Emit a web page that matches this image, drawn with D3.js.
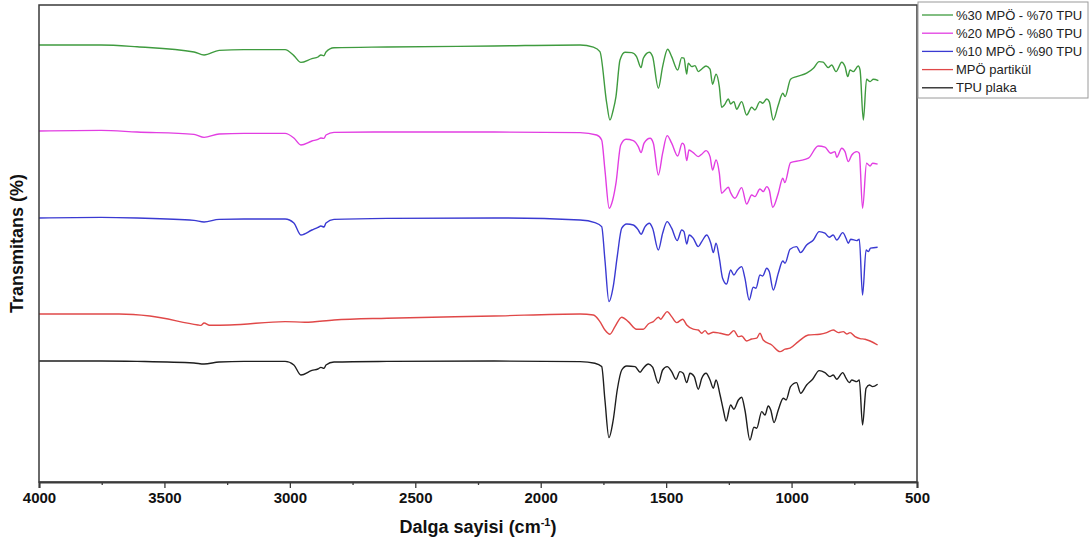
<!DOCTYPE html>
<html>
<head>
<meta charset="utf-8">
<script src="https://cdn.jsdelivr.net/npm/d3@7/dist/d3.min.js"></script>
<style>
  html, body { margin: 0; padding: 0; background: #fff; }
  svg { display: block; }
</style>
</head>
<body>
<svg id="chart" width="1090" height="544"></svg>
<script>
// FTIR spectra, stacked with vertical offsets: [wavenumber (cm-1), transmittance (a.u.)]
const green30 = [[4000,218.5],[3753,218.5],[3609,217.6],[3382,215],[3342,213.5],[3282,215.8],[3183,216.2],[3019,216.2],[2984,213.2],[2956,209.8],[2912,211.7],[2888,212.5],[2876,213.5],[2864,213.1],[2856,215],[2824,217.1],[2613,217.5],[2186,218],[1843,218.5],[1790,217.4],[1764,215.2],[1737,189.5],[1724,181],[1711,186],[1700,192.7],[1684,211],[1664,214.9],[1637,214.7],[1618,212.7],[1600,207.2],[1591,211.9],[1567,214.9],[1554,212.7],[1531,196.9],[1514,207.7],[1494,216.4],[1478,212.7],[1454,206],[1438,212.2],[1429,211.9],[1418,204],[1412,209.4],[1398,207.7],[1385,208.2],[1372,205.2],[1358,206.5],[1341,208],[1325,206.4],[1315,198.9],[1301,203.9],[1288,197.7],[1279,187.4],[1268,188.5],[1252,191.5],[1243,189],[1230,190.2],[1219,186.4],[1199,190.2],[1179,183.5],[1159,187.4],[1146,186],[1126,190.2],[1115,189.4],[1099,191.5],[1089,190.2],[1073,181],[1053,188.5],[1035,194.4],[1026,192.7],[1004,201.4],[980,202.7],[940,204.4],[913,206.9],[890,210.2],[874,209.9],[854,207.2],[840,208.5],[823,205.2],[800,209.9],[787,207.7],[776,202.7],[767,206],[754,205.2],[734,208],[727,206],[714,181],[701,201.4],[687,200.2],[674,201.4],[654,200.7]];

const magenta20 = [[4000,175.5],[3753,175.8],[3609,175],[3382,173.8],[3342,172.3],[3282,174],[3183,174.3],[3019,174.3],[2984,172],[2956,168.5],[2912,170.5],[2888,171.3],[2876,172],[2864,171.8],[2856,173.5],[2824,174.8],[2613,175],[2186,175],[1843,174.7],[1777,173.5],[1757,171],[1744,156],[1727,136.9],[1713,141],[1700,149.4],[1681,168.5],[1660,171.4],[1631,170.7],[1611,167.7],[1600,164.7],[1588,169.4],[1564,171.9],[1551,169.4],[1531,153.5],[1514,164.4],[1496,173.2],[1478,169.4],[1454,163],[1436,169.4],[1428,168.5],[1418,160.7],[1409,166],[1392,164.7],[1372,162.7],[1358,163.9],[1341,165.7],[1325,162.7],[1315,156],[1301,161],[1288,154.4],[1279,144.4],[1265,146],[1252,147.4],[1243,144.7],[1226,141.9],[1199,147.2],[1179,139],[1159,143.5],[1146,142.7],[1126,146.5],[1113,145.2],[1099,147.7],[1089,146],[1075,137.4],[1053,144.4],[1035,151.9],[1027,149.7],[1004,159.7],[967,160.7],[933,161.9],[894,168],[867,167.4],[844,164.4],[827,165.2],[820,162.4],[800,166.9],[787,165.2],[774,160.2],[760,163.5],[740,165.2],[730,164.4],[717,136.9],[701,159.4],[687,158],[677,159.4],[657,158.9]];

const blue10 = [[4000,132],[3753,132.3],[3609,132],[3382,130.8],[3342,130],[3282,131.3],[3183,131.5],[3019,131.5],[2984,129.5],[2956,123.5],[2912,126],[2888,127.3],[2876,128],[2864,127.5],[2856,129.5],[2824,131.3],[2613,131.8],[2186,132],[1843,131],[1784,129.7],[1757,127.7],[1744,111],[1728,90.2],[1711,97.7],[1695,112.7],[1677,126.9],[1657,129],[1631,128.5],[1611,126],[1600,123.9],[1584,127.7],[1567,129.4],[1554,126.9],[1531,116],[1514,124.4],[1496,130.2],[1478,126.9],[1456,120.7],[1438,126],[1429,125.2],[1418,119],[1408,123.5],[1392,121.9],[1372,117.7],[1358,120.2],[1338,123.5],[1322,119.4],[1312,114.7],[1301,119.4],[1288,111.9],[1275,101.9],[1259,99],[1243,106],[1230,103.5],[1216,106],[1199,107.7],[1186,101.9],[1169,91],[1153,97.4],[1142,96.9],[1126,103.5],[1115,103],[1099,106.9],[1089,105.2],[1073,96],[1053,104.4],[1035,110.5],[1026,109.4],[1006,116.4],[980,117.7],[964,114.7],[940,118.5],[913,121],[890,125.2],[867,124.4],[850,122.4],[834,123.5],[820,121],[796,124.7],[783,121.9],[774,119.4],[764,121.4],[740,120.7],[730,121.4],[717,93.5],[703,116],[694,115.2],[685,116.9],[657,117.4]];

const redParticle = [[4000,84],[3753,84],[3681,84],[3558,83],[3366,78.5],[3355,78.3],[3342,79.5],[3320,78.4],[3239,78.5],[3019,80.2],[2940,79.9],[2824,81],[2613,81.9],[2186,83],[1843,84],[1790,83.5],[1764,80.2],[1744,76],[1724,73.9],[1704,77.7],[1677,82.4],[1651,80.2],[1618,76.4],[1591,76.4],[1571,79],[1551,80.2],[1531,82.4],[1522,81.4],[1511,83],[1496,85.2],[1478,82.7],[1458,79.7],[1434,81.4],[1418,78.5],[1392,76.4],[1372,76],[1358,74.4],[1345,75.7],[1332,74],[1312,74.9],[1285,74.4],[1252,73.5],[1230,75.7],[1212,72.7],[1199,73],[1179,70.5],[1159,71.5],[1139,71.9],[1126,74.4],[1113,71],[1079,68.5],[1046,65.2],[1026,66.4],[1006,66.9],[973,70.2],[933,73.5],[887,73.9],[860,74.7],[834,76],[814,74.7],[794,75.2],[780,74],[767,74.7],[747,72.7],[727,71.7],[707,71.4],[687,70.5],[657,68.5]];

const blackTpu = [[4000,60.5],[3753,60.5],[3609,60.3],[3382,59.5],[3342,59],[3282,60],[3183,60.3],[3019,60.3],[2984,58.5],[2956,53.5],[2912,55.8],[2888,56.5],[2876,57.3],[2864,56.8],[2856,58.5],[2824,60],[2613,60.3],[2186,60.5],[1843,60.2],[1784,59.4],[1757,57.7],[1744,41],[1728,22.2],[1711,31],[1695,46],[1677,56],[1657,58],[1624,57.7],[1604,54.9],[1591,56.9],[1571,59],[1554,57.4],[1531,49.4],[1514,56],[1496,57.7],[1478,55.2],[1461,51.4],[1445,55.2],[1432,54.4],[1418,49.7],[1405,54.4],[1388,52.7],[1372,46.4],[1358,51.9],[1341,54.4],[1325,51],[1312,46.9],[1301,51],[1285,43.5],[1272,36],[1261,30.5],[1243,38.5],[1230,36.4],[1212,41],[1199,42.4],[1186,36],[1166,21],[1150,27.4],[1139,26.9],[1119,35.2],[1106,33.5],[1093,38],[1083,36],[1070,29.7],[1053,36],[1033,41.9],[1022,41],[1004,47.7],[980,49.7],[964,44.4],[940,48.5],[916,51.4],[890,55.7],[867,54.7],[847,52.7],[834,53.5],[820,51.4],[796,54.7],[783,51.9],[770,49.7],[760,51],[740,50.2],[730,51],[717,28.5],[703,46.9],[690,48.5],[677,47.7],[657,48.9]];

const seriesNames = ["%30 MPÖ - %70 TPU", "%20 MPÖ - %80 TPU", "%10 MPÖ - %90 TPU", "MPÖ partikül", "TPU plaka"];
const seriesData = [green30, magenta20, blue10, redParticle, blackTpu];
const seriesColors = ["#3f9b3f", "#e23ee2", "#3a3ad2", "#e04848", "#1e1e1e"];

const majorTicks = [4000, 3500, 3000, 2500, 2000, 1500, 1000, 500];
const minorTicks = [3750, 3250, 2750, 2250, 1750, 1250, 750];

const xTitle = "Dalga sayisi (cm";
const yTitle = "Transmitans (%)";

// layout
const margin = { left: 39, top: 5 };
const width = 878, height = 477;

const svg = d3.select("#chart");
const g = svg.append("g").attr("transform", `translate(${margin.left},${margin.top})`);

const x = d3.scaleLinear().domain([4000, 500]).range([0, width]);
const y = d3.scaleLinear().domain([0, 238.5]).range([height, 0]);

// spectra
const line = d3.line()
  .x(d => x(d[0]))
  .y(d => y(d[1]))
  .curve(d3.curveMonotoneX);

g.selectAll("path.spectrum")
  .data(seriesData)
  .join("path")
  .attr("class", "spectrum")
  .attr("d", line)
  .attr("fill", "none")
  .attr("stroke", (d, i) => seriesColors[i])
  .attr("stroke-width", 1.4)
  .attr("stroke-linejoin", "round");

// frame
g.append("rect")
  .attr("x", 0).attr("y", 0)
  .attr("width", width).attr("height", height)
  .attr("fill", "none")
  .attr("stroke", "#3a3a3a")
  .attr("stroke-width", 1.5);

// bottom axis: major + minor ticks
const axisMajor = d3.axisBottom(x).tickValues(majorTicks).tickSize(6).tickPadding(4).tickFormat(d3.format("d"));
const axisMinor = d3.axisBottom(x).tickValues(minorTicks).tickSize(3).tickFormat("");

const gx = g.append("g").attr("transform", `translate(0,${height})`).call(axisMajor);
gx.select(".domain").attr("stroke", "#3a3a3a").attr("stroke-width", 2);
gx.selectAll(".tick line").attr("stroke", "#3a3a3a").attr("stroke-width", 1.3);
gx.selectAll(".tick text")
  .attr("fill", "#111")
  .style("font-family", "'Liberation Sans Narrow', 'Arial Narrow', 'Liberation Sans', Arial, sans-serif")
  .style("font-weight", "bold")
  .style("font-size", "15px");

const gxm = g.append("g").attr("transform", `translate(0,${height})`).call(axisMinor);
gxm.select(".domain").remove();
gxm.selectAll(".tick line").attr("stroke", "#3a3a3a").attr("stroke-width", 1.3);

// axis titles
const xt = svg.append("text")
  .attr("x", margin.left + width / 2)
  .attr("y", 533)
  .attr("text-anchor", "middle")
  .style("font-family", "'Liberation Sans', Arial, sans-serif")
  .style("font-weight", "bold")
  .style("font-size", "18px")
  .attr("fill", "#111");
xt.append("tspan").text(xTitle);
xt.append("tspan").attr("dy", -7).style("font-size", "11px").text("-1");
xt.append("tspan").attr("dy", 7).text(")");

svg.append("text")
  .attr("transform", `translate(23,${margin.top + height / 2}) rotate(-90)`)
  .attr("text-anchor", "middle")
  .style("font-family", "'Liberation Sans', Arial, sans-serif")
  .style("font-weight", "bold")
  .style("font-size", "18px")
  .attr("fill", "#111")
  .text(yTitle);

// legend
const legend = svg.append("g").attr("transform", "translate(918,2)");
legend.append("rect")
  .attr("x", 0).attr("y", 0)
  .attr("width", 170).attr("height", 96)
  .attr("fill", "#fff")
  .attr("stroke", "#9a9a9a")
  .attr("stroke-width", 1);

const rows = legend.selectAll("g.row")
  .data(seriesNames)
  .join("g")
  .attr("class", "row")
  .attr("transform", (d, i) => `translate(0,${13 + i * 18.2})`);

rows.append("line")
  .attr("x1", 4).attr("x2", 35)
  .attr("y1", 0).attr("y2", 0)
  .attr("stroke", (d, i) => seriesColors[i])
  .attr("stroke-width", 1.3);

rows.append("text")
  .attr("x", 38)
  .attr("y", 0)
  .attr("dy", "0.35em")
  .style("font-family", "'Liberation Sans', Arial, sans-serif")
  .style("font-size", "13px")
  .attr("fill", "#222")
  .text(d => d);
</script>
</body>
</html>
